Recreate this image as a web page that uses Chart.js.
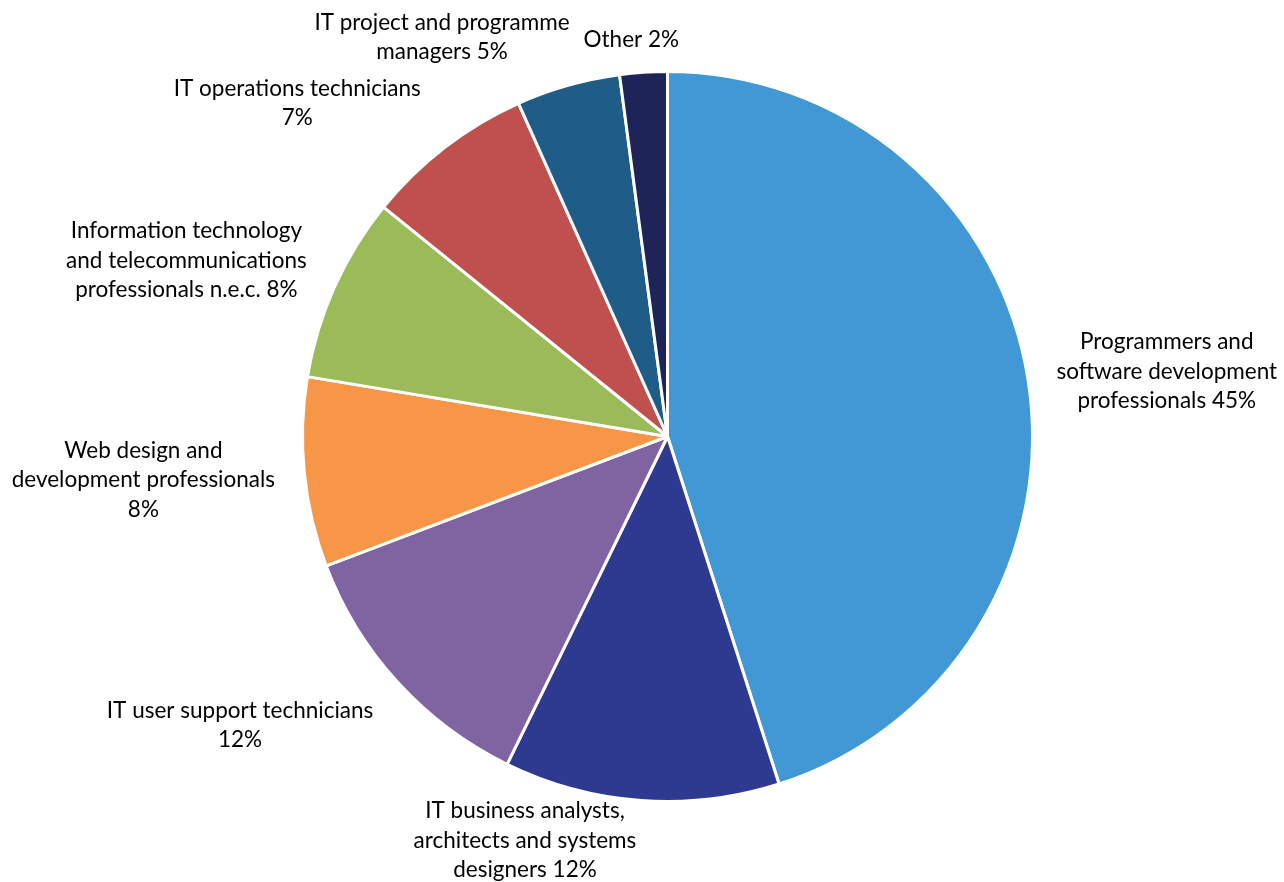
<!DOCTYPE html>
<html>
<head>
<meta charset="utf-8">
<script src="https://cdn.jsdelivr.net/npm/chart.js@4.4.0/dist/chart.umd.min.js"></script>
<style>
html, body { margin: 0; padding: 0; background: #fff; }
</style>
</head>
<body>
<canvas id="grafico-pie" width="1284" height="882"></canvas>
<script>
// data
var categories = [
    "Programmers and software development professionals",
    "IT business analysts, architects and systems designers",
    "IT user support technicians",
    "Web design and development professionals",
    "Information technology and telecommunications professionals n.e.c.",
    "IT operations technicians",
    "IT project and programme managers",
    "Other"
];
var shares = [45.1, 12.2, 12.0, 8.4, 8.2, 7.5, 4.6, 2.1];
var labelLines = [
    ["Programmers and", "software development", "professionals 45%"],
    ["IT business analysts,", "architects and systems", "designers 12%"],
    ["IT user support technicians", "12%"],
    ["Web design and", "development professionals", "8%"],
    ["Information technology", "and telecommunications", "professionals n.e.c. 8%"],
    ["IT operations technicians", "7%"],
    ["IT project and programme", "managers 5%"],
    ["Other 2%"]
];
var sliceColors = ["#4198D5", "#2E3A8F", "#8064A2", "#F79646", "#9BBB59", "#C0504D", "#1F5C88", "#1E2457"];

// label placement tweaks (px), one per slice
var labelNudge = [[0, 3], [-106, -34], [-37, 3], [0, 0], [-11, 4], [-54, 3], [-83, 9], [-7, 12]];

var outsideLabels = {
    id: 'outsideLabels',
    afterDraw: function (chart) {
        var ctx = chart.ctx;
        var arcs = chart.getDatasetMeta(0).data;
        var lineH = 29.5;
        ctx.save();
        ctx.font = '22.5px Lato';
        ctx.fillStyle = '#000';
        ctx.textAlign = 'center';
        ctx.textBaseline = 'middle';
        arcs.forEach(function (arc, i) {
            var mid = (arc.startAngle + arc.endAngle) / 2;
            var dx = Math.cos(mid), dy = Math.sin(mid);
            var r = arc.outerRadius + 30;
            var lines = labelLines[i];
            var w = 0;
            lines.forEach(function (t) { w = Math.max(w, ctx.measureText(t).width); });
            var h = lines.length * lineH;
            var cx = arc.x + r * dx + dx * w / 2 + labelNudge[i][0];
            var cy = arc.y + r * dy + dy * h / 2 + labelNudge[i][1];
            lines.forEach(function (t, k) {
                ctx.fillText(t, cx, cy + (k - (lines.length - 1) / 2) * lineH);
            });
        });
        ctx.restore();
    }
};

var ctxPie = document.getElementById('grafico-pie').getContext('2d');
var myPieChart = new Chart(ctxPie, {
    type: 'pie',
    data: {
        labels: categories,
        datasets: [{
            data: shares,
            backgroundColor: sliceColors,
            borderColor: '#fff',
            borderWidth: 3
        }]
    },
    options: {
        responsive: false,
        animation: false,
        layout: { padding: { top: 70, bottom: 79, left: 301, right: 250 } },
        plugins: {
            legend: { display: false },
            tooltip: { enabled: false }
        }
    },
    plugins: [outsideLabels]
});
</script>
</body>
</html>
